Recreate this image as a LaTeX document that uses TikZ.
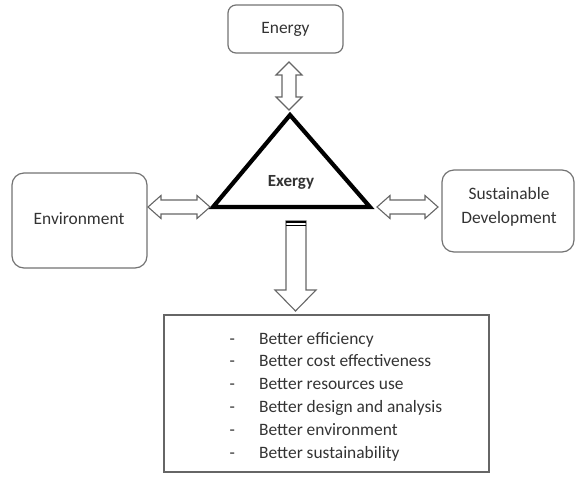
\documentclass[tikz,border=0pt]{standalone}
\usepackage{fontspec}
\setmainfont{Carlito}
\begin{document}
\begin{tikzpicture}[x=1pt,y=-1pt,
  txt/.style={text=black!80, font=\fontsize{17.4}{23}\selectfont, inner sep=0pt},
  rbox/.style={draw=black!55, line width=1.2pt, fill=white},
  barrow/.style={draw=black!60, line width=1.1pt, fill=white, line join=miter}]
\useasboundingbox (0,0) rectangle (575,477);
% boxes
\draw[rbox, rounded corners=8pt] (228,5) rectangle (343,53);
\draw[rbox, rounded corners=12pt] (12,173) rectangle (147,268);
\draw[rbox, rounded corners=12pt] (442,170) rectangle (574,252);
\draw[draw=black!60, line width=1.4pt] (164,315) rectangle (489,472);
% labels
\node[txt, anchor=base] (energy) at (285.5,33) {Energy};
\node[txt, anchor=base] (env) at (79,224) {Environment};
\node[txt, anchor=base] (sus1) at (509,199) {Sustainable};
\node[txt, anchor=base] (sus2) at (509,223) {Development};
% triangle
\coordinate (apex) at (290,115);
\coordinate (bl) at (213,207);
\coordinate (br) at (370,207);
\draw[line width=4.2pt, line join=miter] (apex) -- (bl) -- (br) -- cycle;
\node[txt, anchor=base, font=\fontsize{17}{20}\selectfont\bfseries] (exergy) at (291,186) {Exergy};
% double arrows
\draw[barrow] (289,62) -- (302,75) -- (296,75) -- (296,97) -- (302,97) -- (289,110) -- (276,97) -- (282,97) -- (282,75) -- (276,75) -- cycle;
\draw[barrow] (148,207) -- (161,195.5) -- (161,200) -- (197,200) -- (197,195.5) -- (210,207) -- (197,218.5) -- (197,214) -- (161,214) -- (161,218.5) -- cycle;
\draw[barrow] (377,207) -- (390,195.5) -- (390,200) -- (425,200) -- (425,195.5) -- (438,207) -- (425,218.5) -- (425,214) -- (390,214) -- (390,218.5) -- cycle;
% down arrow
\draw[barrow] (286,221) -- (306,221) -- (306,290) -- (316,290) -- (295.5,311) -- (275,290) -- (286,290) -- cycle;
\draw[line width=1.6pt] (286,222) -- (306,222);
\draw[line width=1.6pt] (286,225.5) -- (306,225.5);
% list
\foreach \t [count=\i] in {Better efficiency, Better cost effectiveness, Better resources use, Better design and analysis, Better environment, Better sustainability}{
  \node[txt, anchor=base west] (dash\i) at (229.5,{344+22.8*(\i-1)}) {-};
  \node[txt, anchor=base west] (item\i) at (259,{344+22.8*(\i-1)}) {\t};
}
\end{tikzpicture}
\end{document}
